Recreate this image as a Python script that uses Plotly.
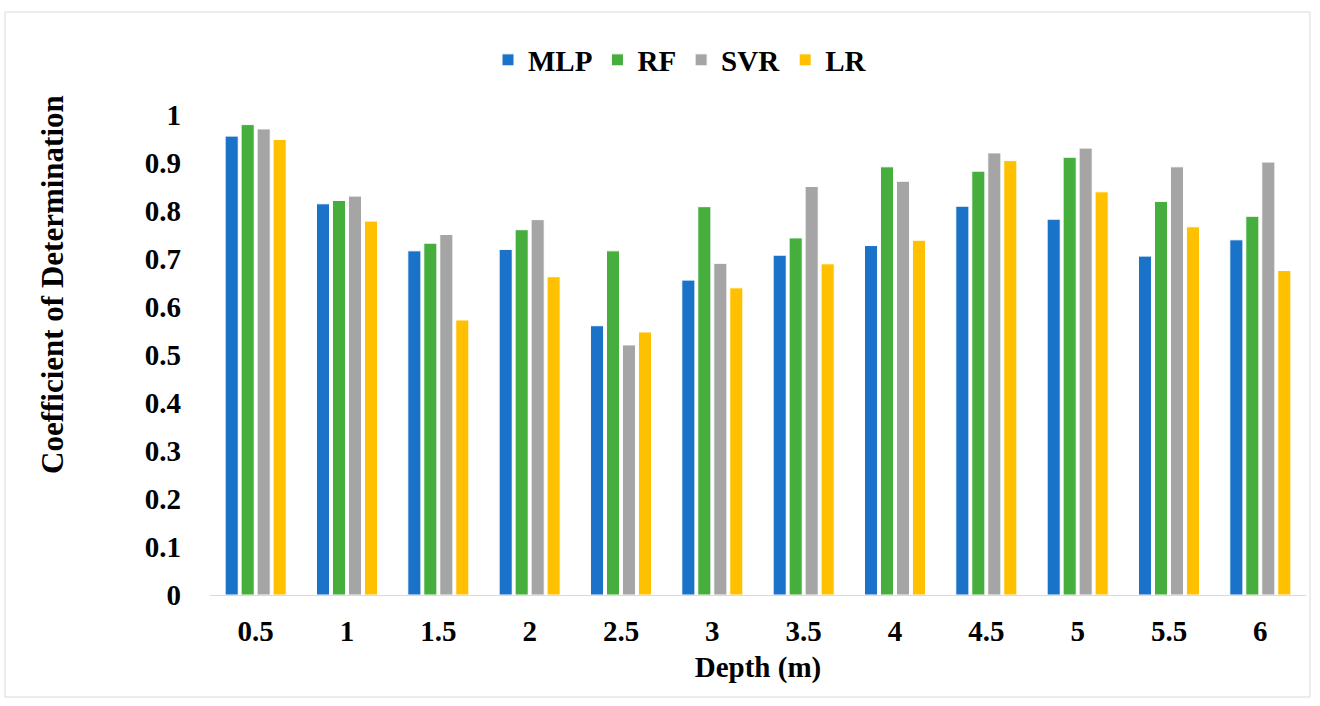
import plotly.graph_objects as go

depths = ["0.5", "1", "1.5", "2", "2.5", "3", "3.5", "4", "4.5", "5", "5.5", "6"]
mlp = [0.956, 0.815, 0.717, 0.720, 0.561, 0.656, 0.708, 0.728, 0.810, 0.783, 0.706, 0.740]
rf = [0.980, 0.822, 0.733, 0.761, 0.717, 0.809, 0.744, 0.892, 0.883, 0.912, 0.820, 0.789]
svr = [0.971, 0.831, 0.751, 0.782, 0.521, 0.691, 0.851, 0.862, 0.921, 0.931, 0.892, 0.902]
lr = [0.949, 0.779, 0.573, 0.663, 0.548, 0.640, 0.690, 0.739, 0.905, 0.840, 0.767, 0.676]
y_ticks = [0, 0.1, 0.2, 0.3, 0.4, 0.5, 0.6, 0.7, 0.8, 0.9, 1]

series = [("MLP", mlp, "#1A73C9"), ("RF", rf, "#45AE3D"),
          ("SVR", svr, "#A5A5A5"), ("LR", lr, "#FFC000")]

FONT = "Liberation Serif"
FS = 29
fig = go.Figure()
for name, vals, col in series:
    fig.add_trace(go.Bar(x=depths, y=vals, name=name,
                         marker=dict(color=col, line=dict(color="white", width=1))))

L, R, T, B = 210, 14, 115, 111
W, H = 1320, 706
pw = W - L - R
ph = H - T - B

def px(x):
    return (x - L) / pw

def py(y):
    return (H - B - y) / ph

tf = dict(family=FONT, size=FS, color="black", weight="bold")
fig.update_layout(
    width=W, height=H,
    margin=dict(l=L, r=R, t=T, b=B),
    paper_bgcolor="white", plot_bgcolor="white",
    barmode="group", bargap=0.30, bargroupgap=0.18,
    font=dict(family=FONT, size=FS, color="black"),
    legend=dict(orientation="h", x=px(680), y=py(60), xanchor="center", yanchor="middle",
                font=tf, itemwidth=30, tracegroupgap=0, bgcolor="rgba(0,0,0,0)"),
    xaxis=dict(showline=True, linecolor="#D9D9D9", linewidth=1, ticks="",
               tickfont=tf, ticklabelstandoff=10,
               title=dict(text="Depth (m)", font=tf, standoff=10)),
    yaxis=dict(range=[0, 1], tickvals=y_ticks, ticktext=[f"{v:g}" for v in y_ticks],
               showgrid=False, zeroline=False, showline=False, ticks="",
               tickfont=tf, ticklabelstandoff=28),
    annotations=[dict(text="Coefficient of Determination", textangle=-90,
                      xref="paper", yref="paper", x=px(52), y=py(285),
                      xanchor="center", yanchor="middle", showarrow=False,
                      font=dict(family=FONT, size=31, color="black", weight="bold"))],
    shapes=[dict(type="rect", xref="paper", yref="paper",
                 x0=px(5), x1=px(1310), y0=py(697), y1=py(12),
                 line=dict(color="#D9D9D9", width=1), layer="below")],
)
fig.write_html("out.html", config={"displayModeBar": False},
               post_script="document.body.style.margin='0px';")
